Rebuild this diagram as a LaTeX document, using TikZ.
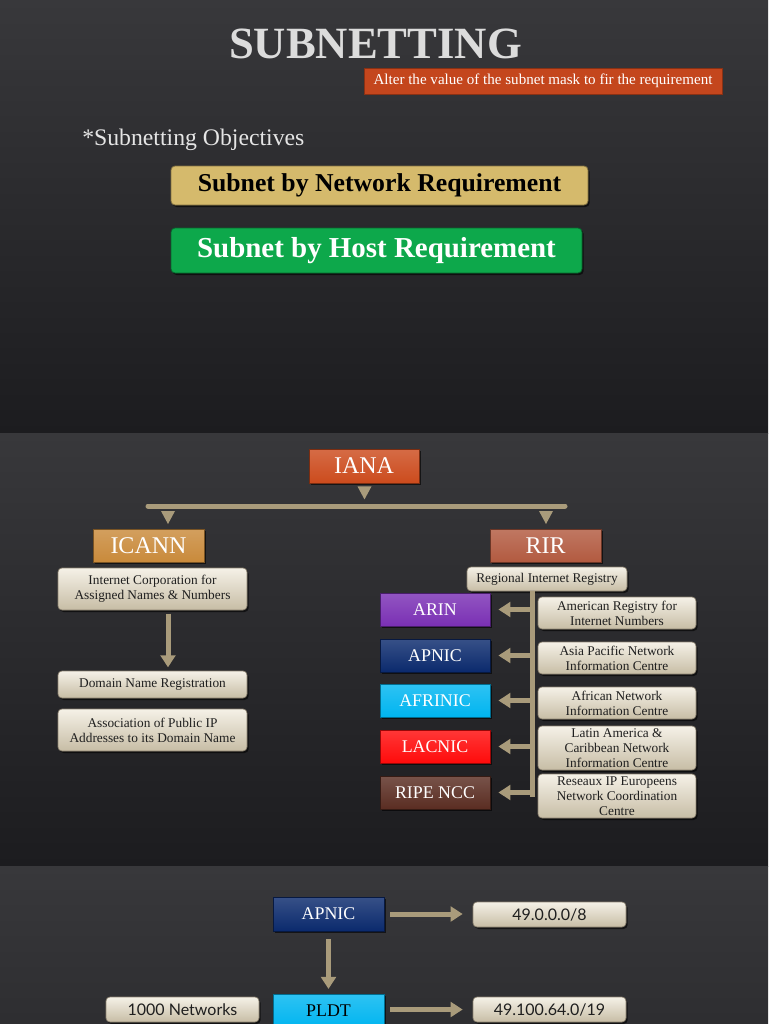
\documentclass[tikz,border=0pt]{standalone}
\usepackage{fontspec}
\setmainfont{Liberation Serif}
\newfontfamily\gillfont{Lato}
\usetikzlibrary{shadows,arrows.meta,calc}
\newcommand\fs[2]{\fontsize{#1}{#2}\selectfont}
\definecolor{slidetop}{HTML}{38383B}
\definecolor{slidebot}{HTML}{1C1C1F}
\definecolor{subor}{HTML}{C4461D}
\definecolor{goldbox}{HTML}{D5BA6C}
\definecolor{grnbox}{HTML}{0DA84B}
\definecolor{ianac}{HTML}{CC4B1D}
\definecolor{icannc}{HTML}{C98A3B}
\definecolor{rirc}{HTML}{B25A40}
\definecolor{conn}{HTML}{A99B7B}
\definecolor{arinc}{HTML}{7A30B4}
\definecolor{apnicc}{HTML}{0B2A6D}
\definecolor{afrinicc}{HTML}{00B5F0}
\definecolor{lacnicc}{HTML}{FF0B0B}
\definecolor{ripec}{HTML}{5A2D22}
\definecolor{beigetop}{HTML}{F5F1E7}
\definecolor{beigebot}{HTML}{C7BDA5}
\definecolor{beigeedge}{HTML}{8C8270}
\definecolor{titlegray}{HTML}{DCDCDC}
\begin{document}
\begin{tikzpicture}[x=0.75pt,y=-0.75pt,
  rect/.style n args={4}{at={({(#1+#3)/2},{(#2+#4)/2})}, minimum width={(#3-#1)*0.75pt}, minimum height={(#4-#2)*0.75pt}, inner sep=0pt},
  shad/.style={drop shadow={shadow xshift=1.2pt,shadow yshift=-1.5pt,opacity=0.6,fill=black}},
  cbox/.style={top color=#1!82!white, bottom color=#1, draw=#1!60!black, line width=0.6pt,
     text=white, font=\fs{13.4}{15}, shad},
  bigbox/.style={cbox=#1, font=\fs{18}{20}},
  beige/.style={top color=beigetop, bottom color=beigebot, draw=beigeedge, line width=0.5pt,
     rounded corners=3pt, text=black!88, font=\fs{10}{11.25}, align=center, shad},
  ipbox/.style={beige, font=\gillfont\fs{12}{14}},
  fat/.style={draw=conn, line width=3.75pt, -{Triangle[length=9pt,width=11pt]}},
  bar/.style={draw=conn, line width=3.75pt, line cap=round}]
\useasboundingbox (0,0) rectangle (768,1024);
\clip (0,0) rectangle (768,1024);
% backgrounds
\shade[top color=slidetop,bottom color=slidebot] (0,0) rectangle (768,433);
\shade[top color=slidetop,bottom color=slidebot] (0,433) rectangle (768,866);
\shade[top color=slidetop,bottom color=slidebot] (0,866) rectangle (768,1299);

% ---------- slide 1
\node[anchor=base, text=titlegray, font=\bfseries\fs{33.5}{40}, inner sep=0pt] (title) at (375.5,59) {SUBNETTING};
\node[fill=subor, draw=subor!70!black, rect={364}{68}{722}{94}, text=white, font=\fs{11.3}{13}] (alter) {Alter the value of the subnet mask to fir the requirement};
\node[anchor=base west, inner sep=0pt, text=white!90!black, font=\fs{17.8}{20}] (obj) at (82,145) {*Subnetting Objectives};
\node[fill=goldbox, draw=goldbox!60!black, line width=0.6pt, rounded corners=3pt, rect={171}{166}{588}{205}, font=\bfseries\fs{19.3}{22}, text=black, shad] (net) {Subnet by Network Requirement};
\node[fill=grnbox, draw=grnbox!60!black, line width=0.6pt, rounded corners=3pt, rect={171}{228}{582}{273}, font=\bfseries\fs{21.7}{25}, text=white, shad] (host) {Subnet by Host Requirement};

% ---------- slide 2
\node[bigbox=ianac, rect={309}{449}{419}{483}] (iana) {IANA};
\coordinate (barL) at (148,506);
\coordinate (barR) at (565,506);
\coordinate (tl) at (168,511);
\coordinate (tr) at (546,511);
\draw[bar] (barL) -- (barR);
\fill[conn] ($(iana.south)+(-6.5,3)$) -- ++(14,0) -- ++(-7,13) -- cycle;
\fill[conn] ($(tl)+(-7,0)$) -- ++(14,0) -- ++(-7,13) -- cycle;
\fill[conn] ($(tr)+(-7,0)$) -- ++(14,0) -- ++(-7,13) -- cycle;
\node[bigbox=icannc, rect={93}{529}{204}{562}] (icann) {ICANN};
\node[bigbox=rirc, rect={490}{529}{601}{562}] (rir) {RIR};

\node[beige, rect={58}{568}{247}{610}] (icdesc) {Internet Corporation for\\Assigned Names \& Numbers};
\node[beige, rect={58}{671}{247}{698}] (dom) {Domain Name Registration};
\node[beige, rect={58}{709}{247}{751}] (assoc) {Association of Public IP\\Addresses to its Domain Name};
\draw[fat, shorten <=2.5pt, shorten >=2.5pt] (icdesc.south -| tl) -- (dom.north -| tl);

\node[beige, rect={467}{567}{627}{591}] (regional) {Regional Internet Registry};
\coordinate (vb) at (532,797);
\draw[draw=conn, line width=3.75pt] (regional.south -| vb) -- (vb);

\node[cbox=arinc, rect={380}{593}{490}{626}] (arin) {ARIN};
\node[cbox=apnicc, rect={380}{639}{490}{672}] (apnic) {APNIC};
\node[cbox=afrinicc, rect={380}{684}{490}{717}] (afrinic) {AFRINIC};
\node[cbox=lacnicc, rect={380}{730}{490}{763}] (lacnic) {LACNIC};
\node[cbox=ripec, rect={380}{776}{490}{809}] (ripe) {RIPE NCC};

\node[beige, rect={538}{597}{696}{629}] (arind) {American Registry for\\Internet Numbers};
\node[beige, rect={538}{642}{696}{674}] (apnicd) {Asia Pacific Network\\Information Centre};
\node[beige, rect={538}{687}{696}{719}] (afrinicd) {African Network\\Information Centre};
\node[beige, rect={538}{726}{696}{770}] (lacnicd) {Latin America \&\\Caribbean Network\\Information Centre};
\node[beige, rect={538}{774}{696}{818}] (riped) {Reseaux IP Europeens\\Network Coordination\\Centre};

\foreach \r in {arin,apnic,afrinic,lacnic,ripe}{
  \draw[fat, shorten <=1.5pt, shorten >=6pt] (vb |- \r) -- (\r.east);
}

% ---------- slide 3
\node[cbox=apnicc, rect={273}{897}{384}{931}] (apnic2) {APNIC};
\node[ipbox, rect={473}{902}{626}{927}] (ip1) {49.0.0.0/8};
\node[cbox=afrinicc, text=black, rect={273}{994}{384}{1028}] (pldt) {PLDT};
\node[ipbox, rect={473}{997}{626}{1022}] (ip2) {49.100.64.0/19};
\node[ipbox, rect={106}{997}{259}{1022}] (nets) {1000 Networks};
\draw[fat, shorten <=4.5pt, shorten >=7.5pt] (apnic2.east) -- (apnic2.east -| ip1.west);
\draw[fat, shorten <=4.5pt, shorten >=7.5pt] (pldt.east |- ip2) -- (ip2.west);
\draw[fat, shorten <=6pt, shorten >=3.5pt] (apnic2.south) -- (pldt.north);
\end{tikzpicture}
\end{document}
